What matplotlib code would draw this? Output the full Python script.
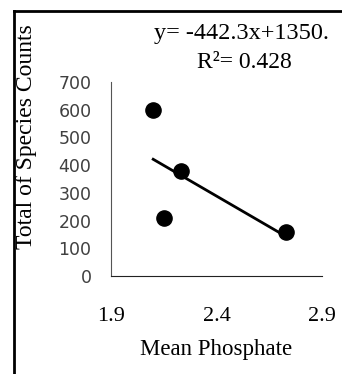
import matplotlib
matplotlib.use("Agg")
import matplotlib.pyplot as plt
from matplotlib.lines import Line2D
import numpy as np

# mean phosphate vs total species counts
phosphate = [2.10, 2.23, 2.15, 2.73]
species = [600, 380, 210, 158]
slope = -442.3
intercept = 1350.0
r2 = 0.428
xticks = [1.9, 2.4, 2.9]
yticks = [0, 100, 200, 300, 400, 500, 600, 700]

serif = "Liberation Serif"

fig = plt.figure(figsize=(3.42, 3.74), dpi=100)
ax = fig.add_axes([111 / 342, 1 - 276 / 374, (322 - 111) / 342, (276 - 82) / 374])

ax.scatter(phosphate, species, s=120, color="black", zorder=3)
xs = np.array([min(phosphate), max(phosphate)])
ax.plot(xs, slope * xs + intercept, color="black", lw=2, zorder=2)

ax.set_xlim(1.9, 2.9)
ax.set_ylim(0, 700)
ax.set_xticks(xticks)
ax.set_xticklabels([f"{t:.1f}" for t in xticks], fontfamily=serif, fontsize=16)
ax.set_yticks(yticks)
ax.set_yticklabels([str(t) for t in yticks], fontfamily="DejaVu Sans",
                   fontsize=12.5, color="#404040")
ax.tick_params(axis="x", length=0, pad=22)
ax.tick_params(axis="y", length=0, pad=14)
for side in ["top", "right"]:
    ax.spines[side].set_visible(False)
ax.spines["left"].set_color("#555555")
ax.spines["bottom"].set_color("#222222")
ax.set_facecolor("none")

ax.set_xlabel("Mean Phosphate", fontfamily=serif, fontsize=16.5, labelpad=10)
fig.text(27 / 342, 1 - 137 / 374, "Total of Species Counts", fontfamily=serif,
         fontsize=17, rotation=90, ha="center", va="center")

fig.text(154 / 342, 1 - 34 / 374, f"y= {slope}x+{intercept:.0f}.", fontfamily=serif,
         fontsize=17.5, ha="left", va="center")
fig.text(244 / 342, 1 - 63 / 374, f"R\u00b2= {r2}", fontfamily=serif,
         fontsize=17, ha="center", va="center")

# outer chart border (left and top edges)
fig.add_artist(Line2D([14 / 342, 14 / 342], [0, 1 - 11 / 374], color="black", lw=2))
fig.add_artist(Line2D([14 / 342, 1], [1 - 11 / 374, 1 - 11 / 374], color="black", lw=2))

fig.savefig("out.png", dpi=100)
